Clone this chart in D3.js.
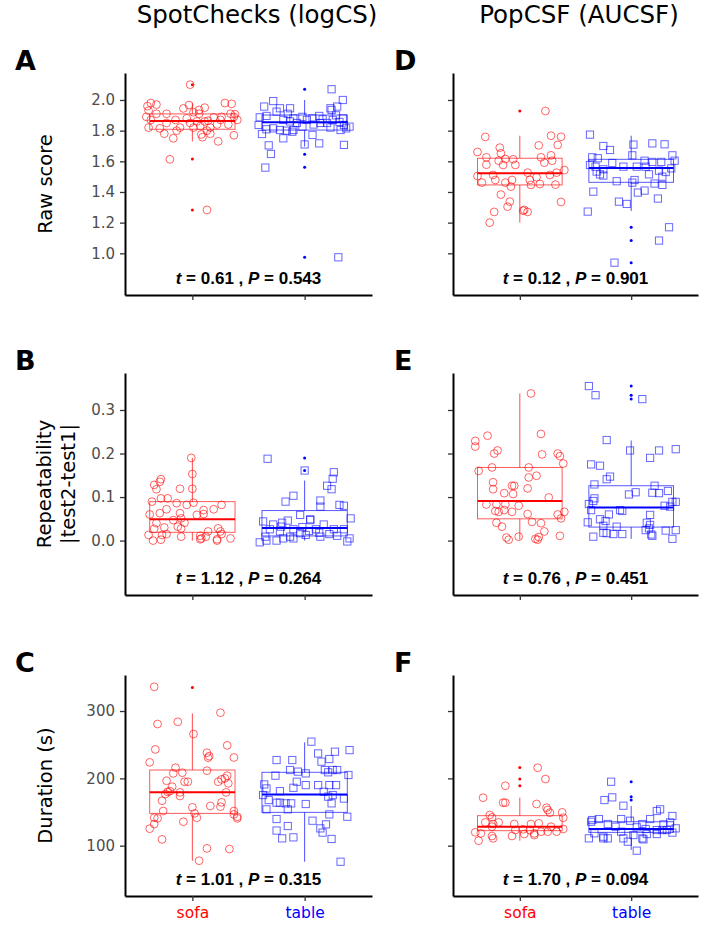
<!DOCTYPE html>
<html>
<head>
<meta charset="UTF-8">
<title>SpotChecks vs PopCSF</title>
<style>
  body { margin: 0; background: #fff; }
  svg { display: block; font-family: "DejaVu Sans", sans-serif; }
</style>
</head>
<body>
<svg></svg>
<script src="https://d3js.org/d3.v7.min.js"></script>
<script>

// categories and labels
let groups = ["sofa", "table"];
let groupColors = ["#ff0000", "#0000ff"];
let colTitles = ["SpotChecks (logCS)", "PopCSF (AUCSF)"];
let rowTitles = [["Raw score"], ["Repeatability", "|test2-test1|"], ["Duration (s)"]];
let panelLetters = [["A", "B", "C"], ["D", "E", "F"]];
let yTicks = [[1.0, 1.2, 1.4, 1.6, 1.8, 2.0], [0.0, 0.1, 0.2, 0.3], [100, 200, 300]];
let yDomains = [[0.728, 2.176], [-0.125, 0.385], [25.3, 353.5]];
let tStats = [["0.61", "1.12", "1.01"], ["0.12", "0.76", "1.70"]];
let pStats = [["0.543", "0.264", "0.315"], ["0.901", "0.451", "0.094"]];

// points: [jitter (category units), value]
let scRawSofa = [[-0.02,2.10],[-0.40,1.96],[-0.37,1.98],[-0.32,1.97],[-0.39,1.93],[-0.23,1.91],[-0.41,1.89],[-0.37,1.87],[-0.39,1.82],[-0.29,1.815],
  [-0.25,1.78],[-0.17,1.75],[-0.14,1.80],[-0.15,1.87],[-0.08,1.945],[-0.03,1.967],[0.01,1.92],[0.06,1.935],[0.11,1.95],[0.06,1.91],
  [0.04,1.86],[0.07,1.83],[0.08,1.775],[0.09,1.757],[0.11,1.86],[0.16,1.82],[0.16,1.78],[0.14,1.865],[0.23,1.73],[0.22,1.84],
  [0.25,1.87],[0.29,1.98],[0.35,1.975],[0.34,1.91],[0.37,1.89],[0.38,1.907],[0.40,1.87],[0.37,1.77],[0.32,1.84],[0.26,1.89],
  [-0.02,1.85],[-0.11,1.82],[0.13,1.80],[-0.20,1.613],[0.13,1.283],[-0.05,1.88],[0.01,1.82],[-0.23,1.85],[-0.32,1.91],[0.19,1.887]];
let scRawTable = [[0.24,2.07],[-0.36,1.957],[-0.28,1.993],[-0.22,1.946],[-0.13,1.946],[0.34,2.0],[0.23,1.946],[0.24,1.935],[0.29,1.957],[-0.40,1.887],
  [-0.34,1.896],[-0.25,1.924],[-0.19,1.87],[-0.15,1.91],[-0.10,1.88],[-0.07,1.85],[-0.02,1.89],[0.02,1.87],[0.07,1.88],[0.13,1.896],
  [0.16,1.874],[0.20,1.85],[0.25,1.87],[0.28,1.9],[0.31,1.857],[0.34,1.88],[0.35,1.837],[0.40,1.826],[0.37,1.815],[0.32,1.804],
  [0.23,1.82],[0.14,1.85],[0.08,1.84],[-0.02,1.826],[-0.10,1.804],[-0.16,1.8],[-0.22,1.804],[-0.28,1.815],[-0.34,1.809],[-0.38,1.778],
  [-0.41,1.837],[-0.19,1.75],[-0.11,1.793],[0.07,1.772],[0.13,1.717],[-0.32,1.704],[-0.30,1.648],[-0.35,1.559],[0.00,1.71],[0.35,1.707],
  [0.30,0.974],[-0.13,1.86]];
let pcRawSofa = [[0.23,1.928],[-0.31,1.759],[0.28,1.767],[0.37,1.76],[0.17,1.704],[0.34,1.707],[-0.18,1.689],[-0.38,1.661],[-0.17,1.652],[-0.30,1.626],
  [-0.13,1.615],[-0.06,1.613],[0.19,1.626],[0.28,1.639],[0.29,1.604],[-0.30,1.578],[-0.19,1.604],[-0.15,1.576],[-0.04,1.576],[0.22,1.591],
  [0.40,1.543],[0.33,1.526],[0.27,1.511],[-0.38,1.504],[-0.24,1.511],[0.07,1.526],[0.15,1.496],[-0.22,1.478],[-0.34,1.461],[-0.07,1.478],
  [0.09,1.478],[-0.13,1.461],[0.18,1.452],[0.10,1.446],[-0.08,1.435],[0.32,1.448],[-0.17,1.383],[-0.09,1.337],[0.37,1.335],[-0.11,1.304],
  [-0.23,1.27],[0.04,1.283],[0.07,1.27],[0.03,1.278],[-0.27,1.2]];
let pcRawTable = [[-0.37,1.774],[0.19,1.717],[0.30,1.711],[0.02,1.709],[-0.25,1.7],[-0.19,1.674],[-0.35,1.626],[-0.30,1.62],[0.01,1.639],[0.37,1.639],
  [-0.37,1.576],[-0.32,1.565],[-0.25,1.548],[-0.17,1.589],[-0.07,1.565],[0.05,1.565],[0.12,1.604],[0.19,1.596],[0.27,1.596],[0.39,1.604],
  [-0.31,1.533],[-0.28,1.515],[-0.25,1.507],[0.16,1.515],[0.25,1.539],[0.31,1.53],[0.36,1.554],[0.13,1.565],[0.28,1.5],[-0.13,1.47],
  [0.01,1.461],[0.03,1.478],[0.21,1.455],[0.28,1.446],[-0.34,1.402],[0.06,1.396],[0.12,1.409],[0.24,1.357],[-0.11,1.337],[-0.04,1.322],
  [-0.39,1.272],[0.34,1.17],[0.25,1.083],[-0.15,0.939]];
let scRepSofa = [[-0.01,0.19],[0.00,0.153],[0.00,0.119],[-0.28,0.141],[-0.29,0.135],[-0.34,0.128],[-0.32,0.118],[-0.11,0.119],[-0.36,0.0895],[-0.28,0.097],
  [-0.22,0.097],[-0.14,0.086],[-0.05,0.082],[0.01,0.087],[0.19,0.072],[0.26,0.082],[0.10,0.07],[-0.38,0.06],[-0.29,0.063],[-0.23,0.072],
  [-0.17,0.047],[-0.10,0.051],[-0.11,0.063],[-0.07,0.041],[0.04,0.059],[0.10,0.061],[-0.32,0.04],[-0.25,0.03],[-0.13,0.032],[-0.10,0.028],
  [-0.34,0.027],[-0.39,0.013],[-0.27,0.013],[-0.23,0.015],[-0.10,0.009],[0.07,0.011],[0.08,0.005],[0.12,0.009],[0.14,0.021],[0.25,0.021],
  [0.26,0.015],[0.22,0],[0.22,0.003],[0.34,0.005],[-0.35,0],[-0.28,0.002],[0.07,0.003],[0.23,0.028]];
let scRepTable = [[-0.33,0.188],[0.00,0.161],[0.26,0.157],[0.25,0.142],[0.20,0.126],[0.24,0.118],[-0.10,0.103],[-0.17,0.0895],[0.14,0.092],[0.14,0.078],
  [0.31,0.082],[0.35,0.08],[-0.04,0.059],[0.05,0.049],[0.05,0.047],[0.41,0.051],[-0.37,0.044],[-0.28,0.037],[-0.20,0.041],[-0.15,0.046],
  [-0.21,0.032],[0.17,0.037],[0.26,0.026],[0.35,0.026],[0.10,0.026],[-0.02,0.031],[-0.10,0.026],[-0.31,0.026],[-0.22,0.021],[-0.04,0.017],
  [0.04,0.022],[0.13,0.018],[0.22,0.015],[-0.13,0.009],[-0.19,0.005],[-0.35,0.009],[-0.40,-0.004],[-0.34,0],[-0.25,0],[0.14,0.009],
  [0.40,0.005],[0.38,-0.002],[0.29,0.011],[0.01,0.013],[-0.10,0.005]];
let pcRepSofa = [[0.10,0.338],[0.19,0.245],[-0.29,0.241],[-0.40,0.229],[-0.40,0.216],[-0.20,0.207],[-0.23,0.2],[0.20,0.198],[0.34,0.2],[0.36,0.194],
  [0.39,0.177],[-0.25,0.168],[-0.37,0.16],[0.08,0.168],[0.08,0.145],[0.15,0.149],[-0.24,0.134],[-0.24,0.118],[-0.07,0.126],[-0.05,0.126],
  [0.07,0.12],[-0.14,0.109],[-0.06,0.107],[0.26,0.099],[-0.30,0.083],[-0.21,0.083],[-0.13,0.083],[-0.01,0.08],[-0.22,0.068],[-0.19,0.066],
  [-0.14,0.07],[-0.07,0.066],[0.07,0.061],[0.34,0.06],[0.37,0.051],[0.40,0.066],[-0.21,0.041],[-0.16,0.032],[0.11,0.043],[0.19,0.04],
  [0.22,0.021],[0.36,0.011],[-0.01,0.009],[-0.12,0.007],[-0.10,0.002],[0.14,0.004],[0.16,0.002],[0.17,0.008]];
let pcRepTable = [[-0.38,0.355],[-0.32,0.334],[0.10,0.325],[-0.22,0.231],[-0.01,0.207],[0.25,0.207],[0.40,0.21],[0.17,0.19],[-0.36,0.175],[-0.28,0.172],
  [-0.19,0.147],[-0.22,0.141],[-0.33,0.129],[0.21,0.126],[0.33,0.114],[0.04,0.111],[-0.02,0.106],[0.19,0.11],[0.25,0.109],[-0.33,0.097],
  [-0.34,0.091],[-0.38,0.084],[-0.36,0.07],[-0.10,0.07],[-0.08,0.068],[0.37,0.089],[0.40,0.089],[0.35,0.078],[0.30,0.08],[0.17,0.059],
  [-0.20,0.06],[-0.28,0.049],[-0.23,0.045],[-0.39,0.042],[-0.25,0.034],[-0.13,0.032],[0.14,0.041],[0.17,0.036],[0.16,0.028],[0.13,0.024],
  [-0.25,0.018],[-0.22,0.017],[-0.16,0.015],[-0.08,0.015],[-0.34,0.009],[0.18,0.014],[0.19,0.011],[0.31,0.023],[0.40,0.024],[0.37,0.004]];
let scDurSofa = [[-0.34,336],[-0.31,280.7],[-0.13,284],[0.25,297.5],[0.01,265.8],[-0.33,243],[0.31,249],[-0.38,223.8],[0.13,238],[0.15,233],
  [0.14,230.7],[0.37,231],[-0.15,215.8],[-0.17,207.4],[-0.09,208.4],[0.13,211.4],[0.31,204],[0.29,200],[0.26,198.5],[-0.23,196.5],
  [-0.07,195],[-0.04,195],[0.23,195],[0.32,192.6],[-0.18,187.6],[-0.20,181],[-0.22,180],[-0.24,176.7],[-0.11,179.2],[-0.11,173.8],
  [0.30,179.2],[-0.27,166.8],[0.26,164.4],[0.25,158],[0.00,157],[0.16,159],[-0.26,151.5],[0.37,151.5],[0.02,148],[0.04,141.6],
  [0.37,146.5],[0.40,143],[0.40,140.6],[-0.34,141.6],[-0.31,140.6],[-0.08,135.6],[-0.34,132.2],[-0.38,125.3],[-0.27,109.4],[0.13,96],
  [0.33,95],[0.06,77.7]];
let scDurTable = [[0.06,254.5],[0.40,242],[0.27,239.6],[0.12,237],[0.15,224.8],[0.22,228.7],[-0.25,227.2],[-0.11,227.2],[0.39,205],[-0.26,204],
  [-0.06,210],[-0.13,212.4],[0.01,207.4],[0.18,212.4],[0.21,209],[0.25,212.4],[0.29,212.4],[-0.07,195],[0.01,190],[0.12,190],
  [0.22,190],[0.28,190],[-0.36,191],[-0.34,185],[-0.10,186],[-0.22,181],[0.17,180],[0.21,172.8],[0.25,175.2],[0.35,170],
  [-0.37,175.2],[-0.32,167.8],[-0.25,163.9],[-0.22,163.9],[-0.17,162.9],[-0.12,162.9],[0.01,161.9],[0.24,162.9],[-0.15,154],[-0.34,154],
  [0.38,143],[0.22,146.5],[-0.25,139.6],[0.07,137.1],[-0.15,129.2],[0.19,131.7],[-0.25,122.5],[0.14,125.7],[0.16,119.4],[-0.10,112.4],
  [-0.20,110.9],[0.24,110],[0.32,76.2]];
let pcDurSofa = [[0.16,215.8],[0.23,199],[-0.13,189],[-0.33,171.3],[-0.15,163.9],[-0.13,163.9],[0.15,162],[0.24,156.4],[0.25,153],[0.27,149],
  [0.38,149.5],[-0.27,145.5],[-0.25,142],[0.39,141.6],[-0.31,134.6],[-0.24,132.2],[-0.19,134.6],[-0.05,132.2],[0.10,132.2],[0.17,133.2],
  [-0.25,128.2],[0.03,124.3],[0.09,123.3],[0.28,128.2],[0.39,124.8],[-0.40,119.8],[-0.35,118.3],[-0.25,114.4],[-0.24,110.9],[-0.07,114.4],
  [0.13,118.3],[0.13,115.8],[0.19,120.8],[0.25,120.8],[0.33,120.8],[-0.37,107.4],[-0.04,123.3],[0.04,117.3]];
let pcDurTable = [[-0.18,195],[-0.17,171.8],[-0.24,167.8],[-0.07,159.4],[0.26,154],[0.23,151.5],[0.37,144.1],[0.17,139.6],[-0.09,139.6],[-0.01,137.1],
  [-0.36,135.6],[-0.35,138.1],[-0.29,139.6],[-0.21,132.2],[0.10,132.2],[0.35,134.6],[0.40,125.8],[0.29,131.7],[-0.14,128.2],[0.05,127.3],
  [0.13,124.8],[0.23,123.3],[0.28,123.3],[0.32,123.3],[0.37,119.4],[-0.33,118.4],[-0.25,113.4],[-0.25,110.9],[-0.38,110.9],[-0.21,110.9],
  [-0.07,110.9],[-0.03,106],[0.10,110.9],[0.11,109.4],[0.14,117.3],[0.23,117.3],[0.02,115.8],[-0.09,120.8],[0.05,92.6]];

// box summaries: [q1, median, q3, lower whisker, upper whisker, outliers] for sofa, table
let scRawBox = [[1.809, 1.863, 1.909, 1.73, 1.98, [2.10, 1.615, 1.283]], [1.804, 1.854, 1.902, 1.696, 2.0, [2.07, 1.646, 1.561, 0.974]]];
let scRepBox = [[0.019, 0.049, 0.0895, 0, 0.19, []], [0.0107, 0.029, 0.069, 0, 0.138, [0.19, 0.161]]];
let scDurBox = [[148, 179.2, 212.4, 77.7, 296.5, [335]], [149.5, 176.2, 209, 76.2, 253.5, []]];
let pcRawBox = [[1.446, 1.522, 1.62, 1.2, 1.767, [1.928]], [1.463, 1.557, 1.613, 1.276, 1.767, [1.17, 1.083, 0.939]]];
let pcRepBox = [[0.05, 0.091, 0.168, 0.002, 0.338, []], [0.031, 0.076, 0.126, 0.004, 0.23, [0.355, 0.334, 0.325]]];
let pcDurBox = [[122.3, 128.2, 144.6, 107.4, 171.3, [216.3, 199, 189]], [119.8, 124.8, 135.6, 93.6, 159, [195, 172.8, 167.8]]];

let panels = [
  {col: 0, row: 0, pts: [scRawSofa, scRawTable], box: scRawBox},
  {col: 0, row: 1, pts: [scRepSofa, scRepTable], box: scRepBox},
  {col: 0, row: 2, pts: [scDurSofa, scDurTable], box: scDurBox},
  {col: 1, row: 0, pts: [pcRawSofa, pcRawTable], box: pcRawBox},
  {col: 1, row: 1, pts: [pcRepSofa, pcRepTable], box: pcRepBox},
  {col: 1, row: 2, pts: [pcDurSofa, pcDurTable], box: pcDurBox}
];

let width = 712, height = 936;
let colX = [[125, 372], [453, 698]];
let rowY = [[73, 295], [373, 595], [675, 896]];
let tickFmt = [d3.format(".1f"), d3.format(".1f"), d3.format("d")];

let svg = d3.select("svg").attr("width", width).attr("height", height);

// column titles
svg.selectAll(".coltitle")
  .data(colTitles)
  .enter().append("text")
  .attr("x", (d, i) => [257, 579][i])
  .attr("y", 23)
  .attr("text-anchor", "middle")
  .attr("font-size", 24.5)
  .text(d => d);

// row titles (rotated)
rowTitles.forEach((lines, r) => {
  let cy = (rowY[r][0] + rowY[r][1]) / 2;
  lines.forEach((line, i) => {
    let bx = (lines.length == 1 ? 52 : 51) + i * 23.5;
    svg.append("text")
      .attr("transform", `translate(${bx},${cy}) rotate(-90)`)
      .attr("text-anchor", "middle")
      .attr("font-size", 19.5)
      .text(line);
  });
});

panels.forEach(p => {
  let [x0, x1] = colX[p.col], [y0, y1] = rowY[p.row];
  let x = d3.scalePoint().domain(groups).range([x0, x1]).padding(0.6);
  let y = d3.scaleLinear().domain(yDomains[p.row]).range([y1, y0]);
  let step = x.step();
  let boxW = step * 0.76;
  let g = svg.append("g");

  // panel letter
  svg.append("text")
    .attr("x", p.col == 0 ? 15 : 394)
    .attr("y", y0 - 3.5)
    .attr("font-size", 27)
    .attr("font-weight", "bold")
    .text(panelLetters[p.col][p.row]);

  // boxplots
  groups.forEach((grp, gi) => {
    let b = p.box[gi], cx = x(grp), col = groupColors[gi];
    let bg = g.append("g").attr("stroke", col).attr("fill", "none");
    bg.append("line").attr("x1", cx).attr("x2", cx).attr("y1", y(b[2])).attr("y2", y(b[4]))
      .attr("stroke-opacity", 0.7);
    bg.append("line").attr("x1", cx).attr("x2", cx).attr("y1", y(b[0])).attr("y2", y(b[3]))
      .attr("stroke-opacity", 0.7);
    bg.append("rect")
      .attr("x", cx - boxW / 2).attr("width", boxW)
      .attr("y", y(b[2])).attr("height", y(b[0]) - y(b[2]))
      .attr("stroke-opacity", 0.65);
    bg.append("line")
      .attr("x1", cx - boxW / 2).attr("x2", cx + boxW / 2)
      .attr("y1", y(b[1])).attr("y2", y(b[1]))
      .attr("stroke-width", 2);
    g.selectAll(null)
      .data(b[5])
      .enter().append("circle")
      .attr("cx", cx).attr("cy", d => y(d))
      .attr("r", 1.5).attr("fill", col);
  });

  // jittered points
  let sofa = p.pts[0], table = p.pts[1];
  g.selectAll(null)
    .data(sofa)
    .enter().append("circle")
    .attr("cx", d => x("sofa") + d[0] * step)
    .attr("cy", d => y(d[1]))
    .attr("r", 3.9)
    .attr("fill", "none")
    .attr("stroke", groupColors[0])
    .attr("stroke-opacity", 0.6);
  g.selectAll(null)
    .data(table)
    .enter().append("rect")
    .attr("x", d => x("table") + d[0] * step - 3.6)
    .attr("y", d => y(d[1]) - 3.6)
    .attr("width", 7.2).attr("height", 7.2)
    .attr("fill", "none")
    .attr("stroke", groupColors[1])
    .attr("stroke-opacity", 0.6);

  // y axis
  let yAxis = g.append("g")
    .attr("transform", `translate(${x0},0)`)
    .call(d3.axisLeft(y).tickValues(yTicks[p.row]).tickSize(5).tickSizeOuter(0).tickPadding(5)
      .tickFormat(p.col == 0 ? tickFmt[p.row] : ""));
  yAxis.select(".domain").attr("stroke", "#000").attr("stroke-width", 2);
  yAxis.selectAll(".tick line").attr("stroke", "#333").attr("stroke-width", 1.3);
  yAxis.selectAll(".tick text").attr("fill", "#4d4d4d").attr("font-size", 15).attr("font-family", "DejaVu Sans");

  // x axis
  let xAxis = g.append("g")
    .attr("transform", `translate(0,${y1})`)
    .call(d3.axisBottom(x).tickSize(5).tickSizeOuter(0).tickPadding(6)
      .tickFormat(p.row == 2 ? (d => d) : ""));
  xAxis.select(".domain").attr("stroke", "#000").attr("stroke-width", 2);
  xAxis.selectAll(".tick line").attr("stroke", "#333").attr("stroke-width", 1.3);
  xAxis.selectAll(".tick text")
    .attr("fill", (d, i) => groupColors[i])
    .attr("font-size", 15.5)
    .attr("font-family", "DejaVu Sans");

  // t-test annotation
  let ann = g.append("text")
    .attr("x", (x0 + x1) / 2)
    .attr("y", y1 - 11)
    .attr("text-anchor", "middle")
    .attr("font-family", "Liberation Sans, Arial, sans-serif")
    .attr("font-size", 17)
    .attr("font-weight", "bold");
  ann.append("tspan").attr("font-style", "italic").text("t");
  ann.append("tspan").text(" = " + tStats[p.col][p.row] + " , ");
  ann.append("tspan").attr("font-style", "italic").text("P");
  ann.append("tspan").text(" = " + pStats[p.col][p.row]);
});

</script>
</body>
</html>
